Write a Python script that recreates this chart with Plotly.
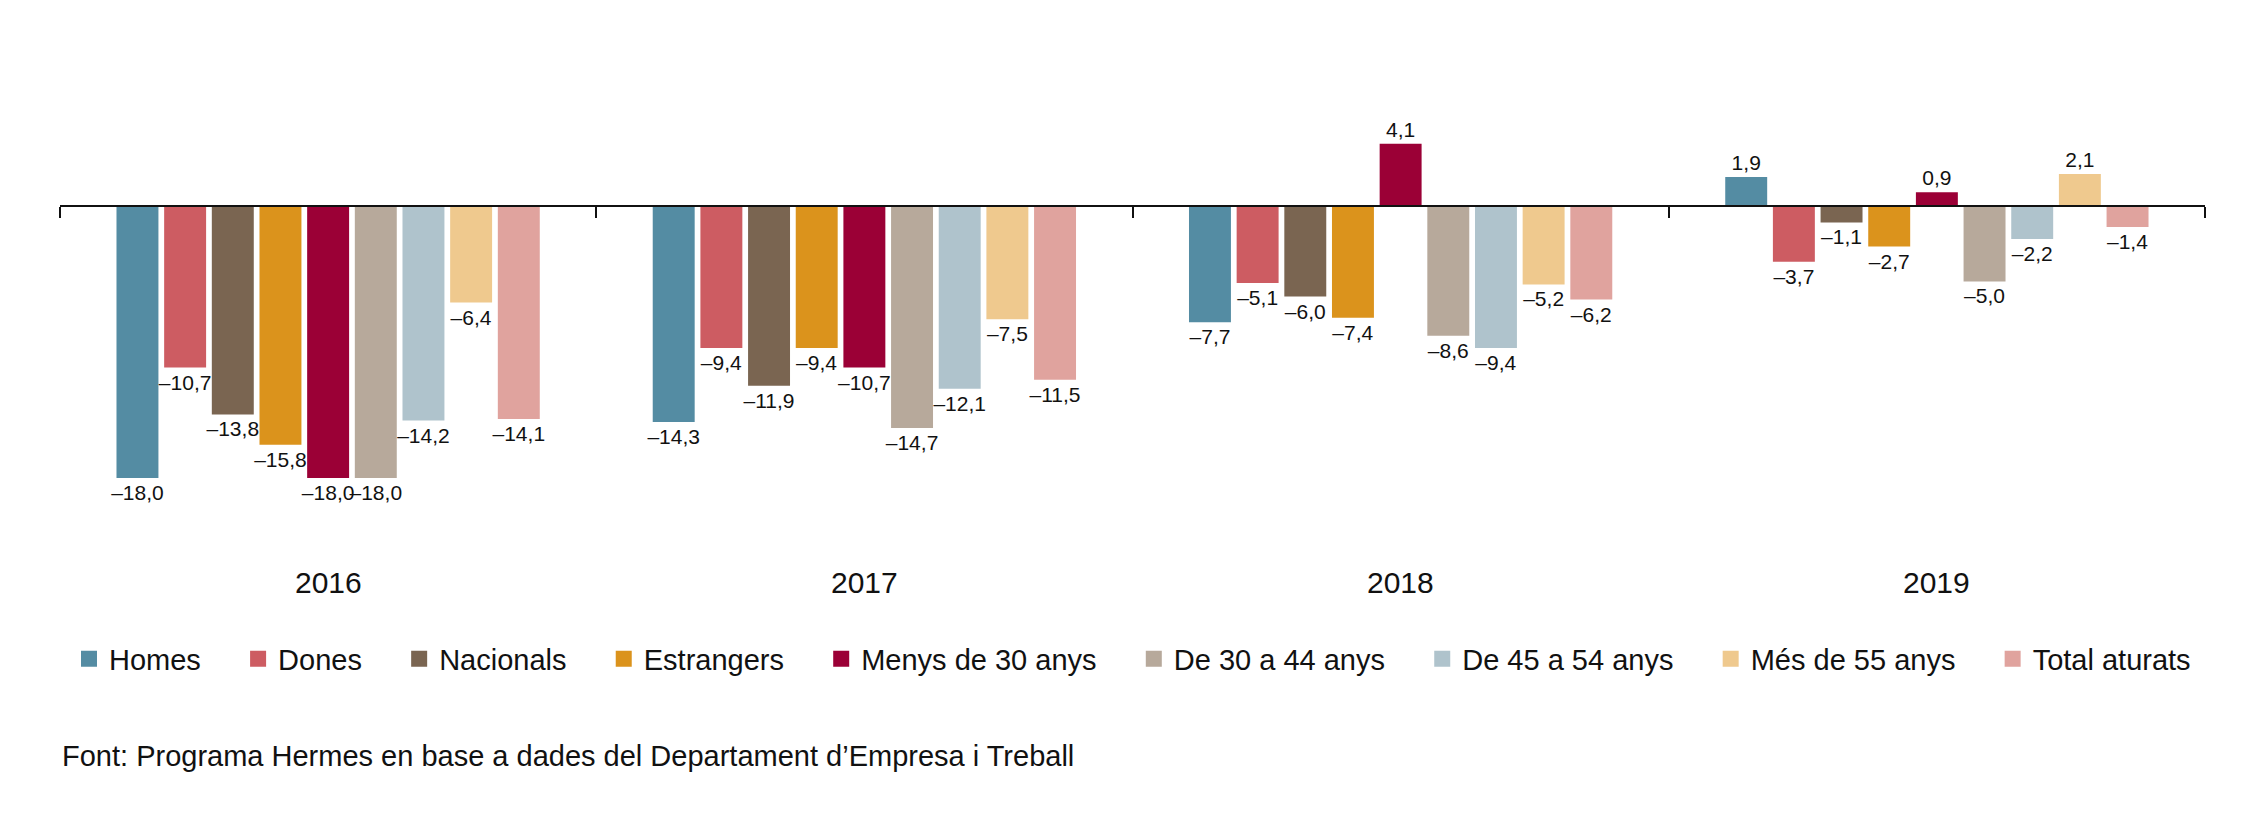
import plotly.graph_objects as go

# ---- data ----
years = ["2016", "2017", "2018", "2019"]
series_names = ["Homes", "Dones", "Nacionals", "Estrangers", "Menys de 30 anys",
                "De 30 a 44 anys", "De 45 a 54 anys", "Més de 55 anys", "Total aturats"]
homes = [-18.0, -14.3, -7.7, 1.9]
dones = [-10.7, -9.4, -5.1, -3.7]
nacionals = [-13.8, -11.9, -6.0, -1.1]
estrangers = [-15.8, -9.4, -7.4, -2.7]
menys30 = [-18.0, -10.7, 4.1, 0.9]
de30a44 = [-18.0, -14.7, -8.6, -5.0]
de45a54 = [-14.2, -12.1, -9.4, -2.2]
mes55 = [-6.4, -7.5, -5.2, 2.1]
total = [-14.1, -11.5, -6.2, -1.4]
source_text = "Font: Programa Hermes en base a dades del Departament d\u2019Empresa i Treball"

series_values = [homes, dones, nacionals, estrangers, menys30, de30a44, de45a54, mes55, total]
colors = ["#548ca3", "#cd5c62", "#7a6551", "#db931c", "#9b0036",
          "#b7a99b", "#afc3cc", "#efc98e", "#e0a39e"]

FONT = "Liberation Sans Narrow, Arial Narrow, Liberation Sans, Arial, sans-serif"


def fmt(v):
    s = f"{v:.1f}".replace(".", ",")
    return s.replace("-", "\u2013")


YMIN, YMAX = -26, 6

fig = go.Figure()
for name, vals, col in zip(series_names, series_values, colors):
    fig.add_trace(go.Bar(
        x=years, y=vals, name=name,
        marker=dict(color=col, line=dict(width=0)),
        text=[fmt(v) for v in vals],
        textposition="outside",
        textfont=dict(family=FONT, size=21, color="#111111"),
        constraintext="none",
        cliponaxis=False,
        hoverinfo="skip",
        showlegend=False,
        legendgroup=name,
    ))

# legend proxies (larger square swatches); padding widens the gaps between entries
n = len(series_names)
for i, (name, col) in enumerate(zip(series_names, colors)):
    pad = "\u00a0" * 4 if i < n - 1 else ""
    fig.add_trace(go.Scatter(
        x=[None], y=[None], mode="markers", name=name + pad,
        marker=dict(symbol="square", size=16, color=col),
        legendgroup=name, showlegend=True, hoverinfo="skip",
    ))

# year labels under the groups
for i, yr in enumerate(years):
    fig.add_annotation(x=i, y=-24.9, xref="x", yref="y", text=yr,
                       showarrow=False, font=dict(family=FONT, size=30, color="#111111"),
                       xanchor="center", yanchor="middle")

fig.add_annotation(x=0, y=-0.324, xref="paper", yref="paper", text=source_text,
                   showarrow=False, xanchor="left", yanchor="middle",
                   font=dict(family=FONT, size=29, color="#111111"))

fig.update_layout(
    width=2268, height=833,
    margin=dict(l=52, r=71, t=107, b=242),
    paper_bgcolor="white", plot_bgcolor="white",
    barmode="group", bargap=0.2, bargroupgap=0.12,
    showlegend=True,
    legend=dict(orientation="h", x=0.5, xanchor="center", y=-0.124, yanchor="middle",
                font=dict(family=FONT, size=29, color="#111111"),
                itemsizing="trace", traceorder="normal", itemclick=False,
                itemdoubleclick=False),
    xaxis=dict(type="category", range=[-0.5, 3.5], anchor="free",
               position=(0 - YMIN) / (YMAX - YMIN),
               showline=True, linecolor="#111111", linewidth=2,
               ticks="outside", tickson="boundaries", ticklen=11, tickwidth=2,
               tickcolor="#111111", showticklabels=False, showgrid=False,
               zeroline=False, fixedrange=True),
    yaxis=dict(range=[YMIN, YMAX], visible=False, showgrid=False, zeroline=False,
               fixedrange=True),
    hovermode=False,
)

fig.write_html("out.html")
